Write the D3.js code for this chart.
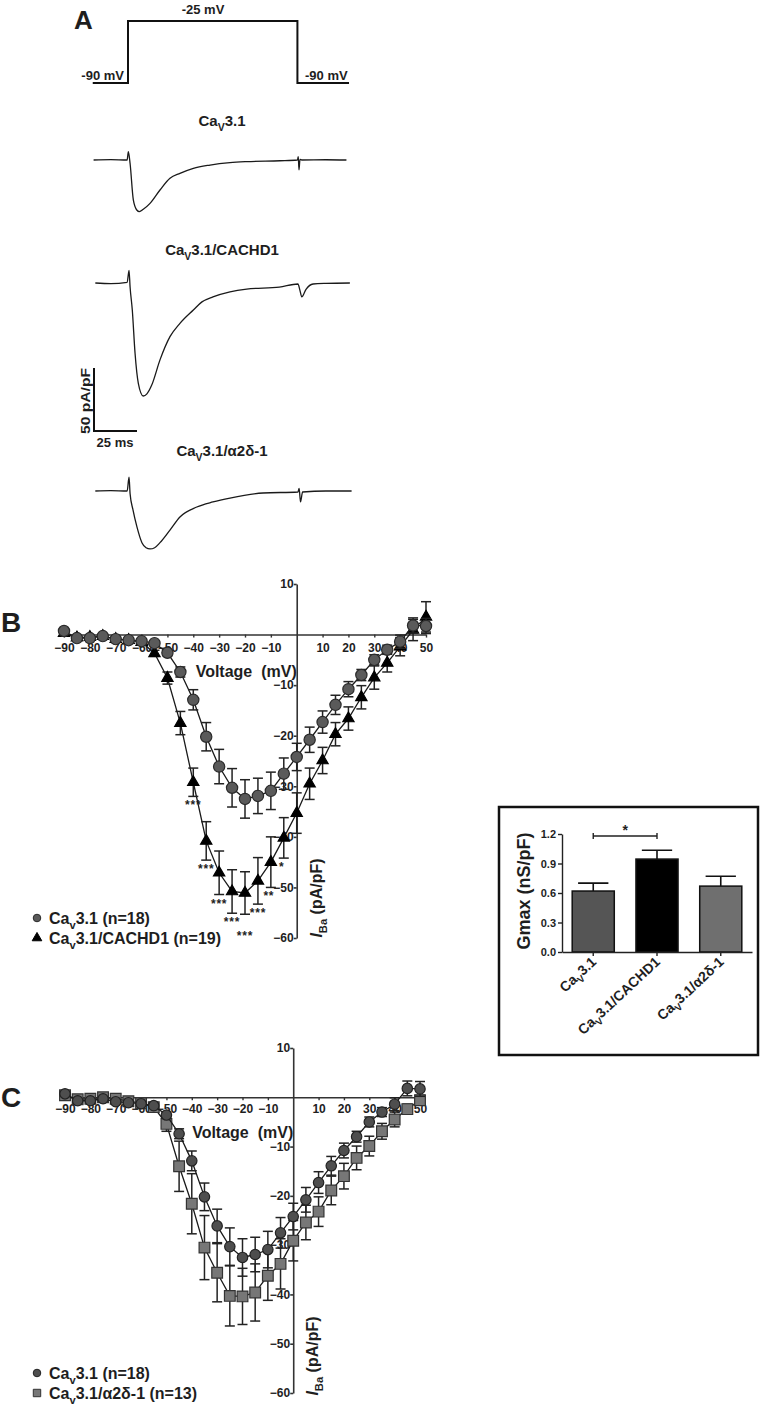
<!DOCTYPE html>
<html>
<head>
<meta charset="utf-8">
<script src="https://cdn.jsdelivr.net/npm/d3@7"></script>
<style>
body { margin: 0; background: #fff; }
text { font-family: "Liberation Sans", Arial, sans-serif; font-weight: bold; fill: #1e1e1e; }
</style>
</head>
<body>
<svg id="fig" width="766" height="1406"></svg>
<script>
// ---- data ----
const voltages = [-90,-85,-80,-75,-70,-65,-60,-55,-50,-45,-40,-35,-30,-25,-20,-15,-10,-5,0,5,10,15,20,25,30,35,40,45,50];

const cav31_mean = [0.7,-0.7,-0.7,-0.3,-0.9,-1.1,-1.3,-1.7,-3.6,-7.4,-12.9,-20.2,-26.1,-30.3,-32.5,-31.9,-30.9,-27.5,-24.2,-20.8,-17.3,-13.9,-10.8,-8.0,-5.0,-3.0,-1.4,1.8,1.7];
const cav31_sem  = [0.3,0.3,0.3,0.3,0.3,0.3,0.3,0.4,0.6,1.0,2.0,2.8,3.4,3.8,3.8,3.5,3.7,3.1,2.7,2.5,2.2,1.9,1.5,1.1,1.0,0.9,1.3,1.5,1.5];

const cachd1_mean = [0.3,-0.6,-0.5,-0.3,-0.9,-1.1,-1.5,-3.7,-8.6,-17.5,-29.2,-40.8,-47.1,-50.8,-51.1,-48.7,-45.0,-40.2,-35.3,-29.5,-24.9,-19.7,-16.6,-12.4,-8.5,-5.6,-2.4,0.9,3.5];
const cachd1_sem  = [0.3,0.3,0.3,0.3,0.3,0.3,0.4,0.6,1.2,2.3,2.8,3.8,4.3,4.3,4.2,4.6,5.0,4.0,4.0,3.1,2.6,2.3,2.3,2.3,2.3,1.8,1.8,2.1,3.0];
const cachd1_sig  = [[-40,"***"],[-35,"***"],[-30,"***"],[-25,"***"],[-20,"***"],[-15,"***"],[-10,"**"],[-5,"*"]];

const a2d1_mean = [0.4,-0.4,-0.3,0.0,-0.3,-0.8,-1.2,-2.0,-5.4,-14.0,-21.6,-30.5,-35.6,-40.3,-40.4,-39.6,-36.2,-33.8,-29.1,-25.4,-23.2,-18.9,-16.0,-12.3,-9.9,-6.9,-4.5,-2.4,-0.6];
const a2d1_sem  = [0.3,0.3,0.3,0.3,0.3,0.3,0.3,0.5,1.5,5.1,6.1,6.5,5.9,6.1,5.7,5.8,5.0,5.1,4.1,3.5,3.0,2.9,2.6,2.4,2.0,1.6,1.5,1.0,1.0];

const iv_xticks = [-90,-80,-70,-60,-50,-40,-30,-20,-10,10,20,30,40,50];
const iv_yticks = [10,-10,-20,-30,-40,-50,-60];

const gmax_groups = ["Cav3.1", "Cav3.1/CACHD1", "Cav3.1/a2d-1"];
const gmax_mean = [0.62, 0.945, 0.67];
const gmax_sem  = [0.08, 0.09, 0.10];
const gmax_ticks = [0, 0.3, 0.6, 0.9, 1.2];

// voltage protocol (ms, mV)
const step_times = [-20.5, 0, 0, 98.5, 98.5, 128.5];
const step_volts = [-90, -90, -25, -25, -90, -90];

// example current traces (ms, pA/pF)
const trace_cav31 = [[-20,0],[-10,0.3],[-0.5,0],[0.2,6.6],[1.2,-2.6],[3.1,-31.7],[5.1,-39.7],[6.6,-41],[8.9,-39.1],[12.8,-34.4],[18.6,-23.8],[24.4,-14.5],[30.2,-10.6],[38,-6.6],[47.7,-4],[59.3,-2.1],[69,-1.3],[88.4,-0.6],[98.5,0],[99,2.6],[99.4,-7.9],[100,0.5],[101,0],[115,0.2],[127,0]];
const trace_cachd1 = [[-19,0],[-10,-0.5],[-0.5,0.5],[0.6,10],[1.2,-3],[2.5,-21.4],[4.1,-55.8],[6,-79.6],[8.9,-89.7],[11,-88],[13.8,-81],[18.6,-61],[24.4,-42.6],[30.2,-32],[38,-21.4],[43,-15],[49.4,-11],[59.3,-7],[69,-4.8],[88,-3.2],[98.8,-0.8],[100,-6],[101,-11],[103.5,-5],[107.6,-0.8],[115,-0.3],[129,0]];
const trace_a2d1 = [[-19,0],[-10,0.3],[-0.5,0],[0.6,11],[1.2,-2],[2.9,-15],[5.2,-28.5],[8.1,-41],[10.5,-45],[12.8,-46],[15.5,-45],[18.6,-41],[24.4,-31],[30.2,-20.6],[40,-12.7],[49.4,-8.7],[59.3,-5.6],[78.5,-1.6],[98.8,-0.8],[99.5,2],[100.3,-8.7],[101.5,-0.8],[115,0],[130,0]];

// ---- helpers ----
const svg = d3.select("#fig");

function cav(sub, rest) {
  return [{t: "Ca"}, {t: sub, sub: true}, {t: "3.1" + (rest || "")}];
}

function rich(sel, parts, size) {
  let wasSub = false;
  parts.forEach((p) => {
    let ts = sel.append("tspan").text(p.t);
    if (p.sub) {
      ts.attr("font-size", size * 0.7).attr("dy", size * 0.3);
    } else if (wasSub) {
      ts.attr("dy", -size * 0.3);
    }
    if (p.it) ts.attr("font-style", "italic");
    wasSub = !!p.sub;
  });
  return sel;
}

function label(x, y, parts, size, anchor, rotate) {
  let t = svg.append("text")
    .attr("font-size", size)
    .attr("text-anchor", anchor || "start")
    .attr("transform", "translate(" + x + "," + y + ")" + (rotate ? " rotate(" + rotate + ")" : ""));
  rich(t, parts, size);
  return t;
}

// ---- panel A ----
label(74, 29, [{t: "A"}], 26);

const tx = d3.scaleLinear().domain([0, 100]).range([128, 300]);
const tI = d3.scaleLinear().domain([0, -50]).range([0, 63]);
const tV = d3.scaleLinear().domain([-90, -25]).range([83, 21]);

svg.append("path")
  .attr("d", d3.line().x((d) => tx(d[0])).y((d) => tV(d[1]))(step_times.map((t, i) => [t, step_volts[i]])))
  .attr("fill", "none").attr("stroke", "#111").attr("stroke-width", 2);

label(203, 14, [{t: "-25 mV"}], 13, "middle");
label(124, 80, [{t: "-90 mV"}], 13, "end");
label(305, 80, [{t: "-90 mV"}], 13, "start");

const traces = [
  {data: trace_cav31, base: 160, title: cav("V"), ty: 126},
  {data: trace_cachd1, base: 283, title: cav("V", "/CACHD1"), ty: 255},
  {data: trace_a2d1, base: 491, title: cav("V", "/\u03b12\u03b4-1"), ty: 456}
];

let traceLine = d3.line().x((d) => tx(d[0])).y((d) => tI(d[1])).curve(d3.curveMonotoneX);
traces.forEach((tr) => {
  svg.append("g").attr("transform", "translate(0," + tr.base + ")")
    .append("path")
    .attr("d", traceLine(tr.data))
    .attr("fill", "none").attr("stroke", "#1a1a1a").attr("stroke-width", 1.3);
  label(222, tr.ty, tr.title, 15, "middle");
});

// scale bar
const sbX = 94, sbY = 431;
svg.append("path")
  .attr("d", "M" + sbX + "," + (sbY - (tI(-50) - tI(0))) + "V" + sbY + "H" + (sbX + tx(25) - tx(0)))
  .attr("fill", "none").attr("stroke", "#111").attr("stroke-width", 2);
label(90, 401, [{t: "50 pA/pF"}], 12, "middle", -90).attr("textLength", 66).attr("lengthAdjust", "spacingAndGlyphs");
label(115, 447, [{t: "25 ms"}], 13, "middle");

// ---- IV panels ----
function ivPanel(opt) {
  const x = d3.scaleLinear().domain([-90, 50]).range(opt.xr);
  const y = d3.scaleLinear().domain([10, -60]).range(opt.yr);
  const g = svg.append("g");

  g.append("g")
    .attr("transform", "translate(0," + y(0) + ")")
    .call(d3.axisBottom(x).tickValues(iv_xticks).tickSize(3).tickSizeOuter(0).tickPadding(opt.xpad))
    .call((a) => a.selectAll("text").attr("font-size", 12).attr("font-family", null).attr("fill", "#222"))
    .call((a) => a.selectAll("path,line").attr("stroke", "#333").attr("stroke-width", 1.4));

  g.append("g")
    .attr("transform", "translate(" + x(0) + ",0)")
    .call(d3.axisLeft(y).tickValues(iv_yticks).tickSize(3).tickSizeOuter(0).tickPadding(0))
    .call((a) => a.selectAll("text").attr("font-size", 12).attr("font-family", null).attr("fill", "#222"))
    .call((a) => a.selectAll("path,line").attr("stroke", "#333").attr("stroke-width", 1.6));

  label(x(0), opt.voltY, [{t: "Voltage\u00a0\u00a0(mV)"}], 16, "end");
  label(opt.iX, opt.iY, [{t: "I", it: true}, {t: "Ba", sub: true}, {t: " (pA/pF)"}], 16, "middle", -90);

  opt.series.forEach((s) => {
    let pts = voltages.map((v, i) => ({v: v, m: s.mean[i], e: s.sem[i]}));
    g.append("path")
      .attr("d", d3.line().x((d) => x(d.v)).y((d) => y(d.m))(pts))
      .attr("fill", "none").attr("stroke", "#1a1a1a").attr("stroke-width", 1.3);
    let eb = g.append("g").attr("stroke", "#222").attr("stroke-width", 1.5);
    pts.forEach((d) => {
      let cx = x(d.v);
      eb.append("line").attr("x1", cx).attr("x2", cx).attr("y1", y(d.m + d.e)).attr("y2", y(d.m - d.e));
      eb.append("line").attr("x1", cx - 5).attr("x2", cx + 5).attr("y1", y(d.m + d.e)).attr("y2", y(d.m + d.e));
      eb.append("line").attr("x1", cx - 5).attr("x2", cx + 5).attr("y1", y(d.m - d.e)).attr("y2", y(d.m - d.e));
    });
    g.append("g").selectAll("path").data(pts).join("path")
      .attr("transform", (d) => "translate(" + x(d.v) + "," + y(d.m) + ")")
      .attr("d", d3.symbol().type(s.sym).size(s.size))
      .attr("fill", s.fill).attr("stroke", s.stroke).attr("stroke-width", 1.2);

    if (s.sig) {
      let prev = null;
      s.sig.forEach(([v, st]) => {
        let i = voltages.indexOf(v);
        let yy = y(s.mean[i] - s.sem[i]) + 13;
        if (prev !== null && Math.abs(yy - prev) < 12) yy = prev + 14;
        prev = yy;
        g.append("text").attr("x", x(v) - (st.length < 3 ? 2 : 0)).attr("y", yy).attr("text-anchor", "middle")
          .attr("font-size", 12).attr("letter-spacing", 0.8).text(st);
      });
    }
  });

  opt.legend.forEach((l, k) => {
    let ly = opt.legY + k * 20;
    g.append("path")
      .attr("transform", "translate(37," + ly + ")")
      .attr("d", d3.symbol().type(l.sym).size(l.size))
      .attr("fill", l.fill).attr("stroke", l.stroke).attr("stroke-width", 1);
    label(49, ly + 6, l.text, 16, "start");
  });
}

ivPanel({
  xr: [64, 426], yr: [584, 938], xpad: 6,
  voltY: 677, iX: 322, iY: 898,
  legY: 918,
  series: [
    {mean: cachd1_mean, sem: cachd1_sem, sym: d3.symbolTriangle, size: 55, fill: "#000", stroke: "#000", sig: cachd1_sig},
    {mean: cav31_mean, sem: cav31_sem, sym: d3.symbolCircle, size: 100, fill: "#5a5a5a", stroke: "#2a2a2a"}
  ],
  legend: [
    {sym: d3.symbolCircle, size: 45, fill: "#5a5a5a", stroke: "#2a2a2a", text: cav("v", " (n=18)")},
    {sym: d3.symbolTriangle, size: 40, fill: "#000", stroke: "#000", text: cav("v", "/CACHD1 (n=19)")}
  ]
});
label(1, 632, [{t: "B"}], 28);

ivPanel({
  xr: [65, 420], yr: [1048, 1393], xpad: 4,
  voltY: 1138, iX: 318, iY: 1356,
  legY: 1373,
  series: [
    {mean: a2d1_mean, sem: a2d1_sem, sym: d3.symbolSquare, size: 115, fill: "#777", stroke: "#333"},
    {mean: cav31_mean, sem: cav31_sem, sym: d3.symbolCircle, size: 85, fill: "#4e4e4e", stroke: "#222"}
  ],
  legend: [
    {sym: d3.symbolCircle, size: 45, fill: "#4e4e4e", stroke: "#222", text: cav("v", " (n=18)")},
    {sym: d3.symbolSquare, size: 55, fill: "#777", stroke: "#333", text: cav("v", "/\u03b12\u03b4-1 (n=13)")}
  ]
});
label(1, 1107, [{t: "C"}], 28);

// ---- Gmax inset ----
svg.append("rect").attr("x", 499).attr("y", 807).attr("width", 259).attr("height", 248)
  .attr("fill", "none").attr("stroke", "#111").attr("stroke-width", 2.5);

const gx = d3.scaleBand().domain(gmax_groups).range([562, 752]).paddingInner(0.34).paddingOuter(0.16);
const gy = d3.scaleLinear().domain([0, 1.2]).range([952, 834]);
const gfill = ["#555", "#000", "#6f6f6f"];
const glabels = [cav("V"), cav("V", "/CACHD1"), cav("V", "/\u03b12\u03b4-1")];

gmax_groups.forEach((k, i) => {
  svg.append("rect")
    .attr("x", gx(k)).attr("y", gy(gmax_mean[i]))
    .attr("width", gx.bandwidth()).attr("height", gy(0) - gy(gmax_mean[i]))
    .attr("fill", gfill[i]).attr("stroke", "#111").attr("stroke-width", 1.5);
  let cx = gx(k) + gx.bandwidth() / 2, cw = gx.bandwidth() * 0.36;
  svg.append("path")
    .attr("d", "M" + cx + "," + gy(gmax_mean[i]) + "V" + gy(gmax_mean[i] + gmax_sem[i]) +
      "M" + (cx - cw) + "," + gy(gmax_mean[i] + gmax_sem[i]) + "H" + (cx + cw))
    .attr("stroke", "#111").attr("stroke-width", 1.6).attr("fill", "none");
  label(cx + 4, 963, glabels[i], 14, "end", -43).attr("fill", "#333");
});

svg.append("g")
  .attr("transform", "translate(562,0)")
  .call(d3.axisLeft(gy).tickValues(gmax_ticks).tickFormat(d3.format(".1f")).tickSize(4).tickSizeOuter(0).tickPadding(2))
  .call((a) => a.selectAll("text").attr("font-size", 11).attr("font-family", null).attr("fill", "#444"))
  .call((a) => a.selectAll("path,line").attr("stroke", "#222").attr("stroke-width", 1.4));

svg.append("g")
  .attr("transform", "translate(0," + gy(0) + ")")
  .call(d3.axisBottom(gx).tickSize(4).tickSizeOuter(0).tickFormat(""))
  .call((a) => a.selectAll("path,line").attr("stroke", "#222").attr("stroke-width", 1.4));

label(530, 891, [{t: "Gmax (nS/pF)"}], 18, "middle", -90);

// significance bracket Cav3.1 vs CACHD1
const b1 = gx(gmax_groups[0]) + gx.bandwidth() / 2, b2 = gx(gmax_groups[1]) + gx.bandwidth() / 2;
const by = gy(1.18);
svg.append("path")
  .attr("d", "M" + b1 + "," + (by - 3) + "V" + (by + 3) + "M" + b1 + "," + by + "H" + b2 + "M" + b2 + "," + (by - 3) + "V" + (by + 3))
  .attr("stroke", "#222").attr("stroke-width", 1.4).attr("fill", "none");
svg.append("text").attr("x", (b1 + b2) / 2).attr("y", by - 1).attr("text-anchor", "middle").attr("font-size", 14).text("*");
</script>
</body>
</html>
